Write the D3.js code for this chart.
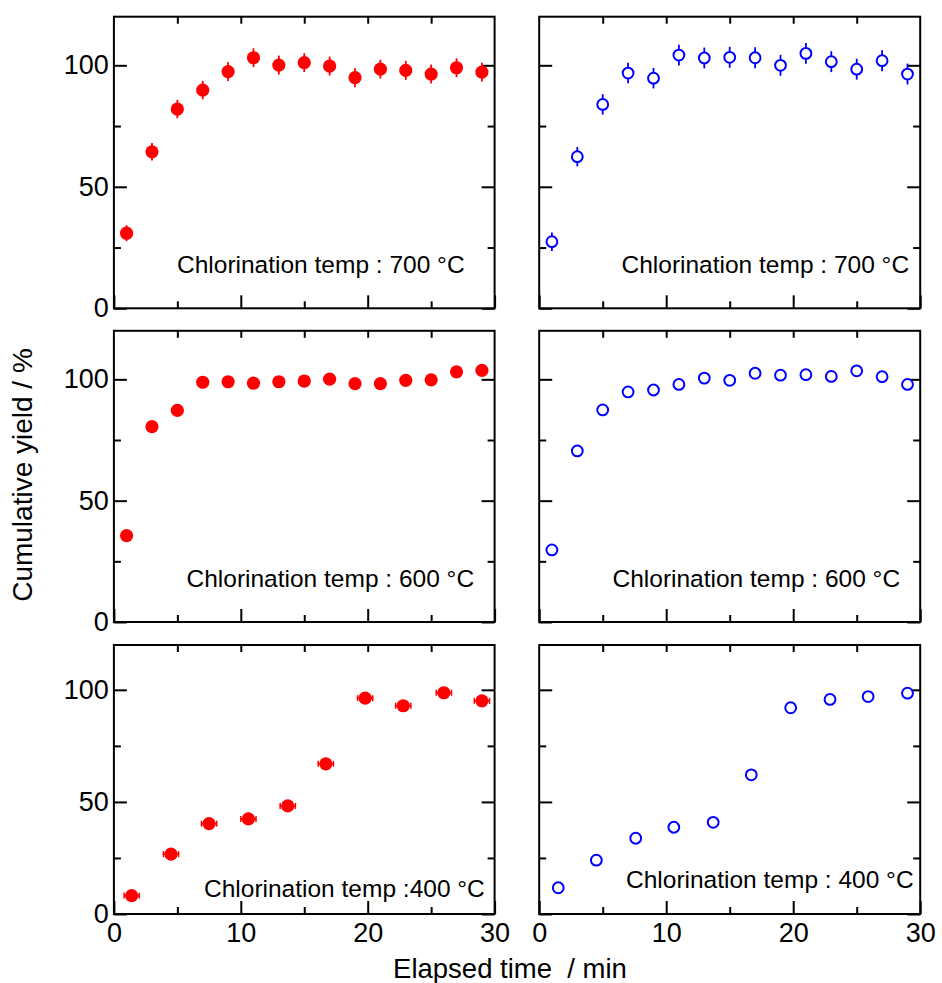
<!DOCTYPE html>
<html>
<head>
<meta charset="utf-8">
<script src="https://cdn.jsdelivr.net/npm/d3@7"></script>
<style>
  html, body { margin: 0; padding: 0; background: #fff; }
  svg { display: block; }
  text { font-family: Arial, "Liberation Sans", sans-serif; fill: #000; }
</style>
</head>
<body>
<svg id="chart" width="942" height="983"></svg>
<script>
// ---------- data ----------
const timeOdd = [1, 3, 5, 7, 9, 11, 13, 15, 17, 19, 21, 23, 25, 27, 29];

const yield700L = [30.9, 64.4, 82.0, 89.8, 97.4, 103.1, 100.1, 101.1, 99.7, 94.9, 98.4, 97.9, 96.4, 99.0, 97.2];
const err700L   = [3.3, 3.6, 3.8, 3.8, 3.9, 3.9, 3.9, 3.9, 3.9, 3.9, 3.9, 3.9, 3.9, 3.9, 3.9];

const yield700R = [27.4, 62.4, 83.9, 96.8, 94.7, 104.2, 103.0, 103.3, 103.1, 100.0, 104.9, 101.5, 98.4, 101.9, 96.4];
const err700R   = [3.8, 4.0, 4.2, 4.2, 4.2, 4.3, 4.3, 4.3, 4.3, 4.3, 4.3, 4.3, 4.3, 4.3, 4.3];

const yield600L = [35.6, 80.5, 87.2, 98.8, 99.0, 98.4, 99.0, 99.3, 100.1, 98.2, 98.2, 99.6, 99.8, 103.1, 103.7];
const yield600R = [29.7, 70.5, 87.4, 94.8, 95.6, 97.9, 100.5, 99.6, 102.5, 101.7, 101.9, 101.2, 103.5, 101.1, 97.9];

const time400L  = [1.4, 4.5, 7.5, 10.6, 13.7, 16.7, 19.8, 22.8, 26.0, 29.0];
const yield400L = [8.2, 26.7, 40.3, 42.4, 48.2, 67.0, 96.3, 92.9, 98.7, 95.1];
const xerr400L  = [0.6, 0.6, 0.6, 0.6, 0.6, 0.6, 0.6, 0.6, 0.6, 0.6];

const time400R  = [1.5, 4.5, 7.6, 10.6, 13.7, 16.7, 19.8, 22.9, 25.9, 29.0];
const yield400R = [11.7, 24.0, 33.8, 38.7, 40.9, 62.1, 92.0, 95.7, 97.0, 98.5];

const xMajorTicks = [0, 10, 20, 30];
const xMinorTicks = [5, 15, 25];
const yMajorTicks = [0, 50, 100];
const yMinorTicks = [25, 75];

const labels = ["Chlorination temp : 700 °C", "Chlorination temp : 700 °C",
                "Chlorination temp : 600 °C", "Chlorination temp : 600 °C",
                "Chlorination temp :400 °C", "Chlorination temp : 400 °C"];

// ---------- layout ----------
const svg = d3.select("#chart");
const cols = [[113.9, 494.6], [539.2, 920.2]];
const rows = [[16.7, 308.3], [330.8, 622.0], [645.0, 914.0]];
const RED = "#ff0000", BLUE = "#0000ff";

const panels = [
  { r: 0, c: 0, x: timeOdd, y: yield700L, yerr: err700L, filled: true, lab: labels[0], lx: 177, ly: 273 },
  { r: 0, c: 1, x: timeOdd, y: yield700R, yerr: err700R, filled: false, lab: labels[1], lx: 621.5, ly: 273 },
  { r: 1, c: 0, x: timeOdd, y: yield600L, filled: true, lab: labels[2], lx: 186.5, ly: 586.5 },
  { r: 1, c: 1, x: timeOdd, y: yield600R, filled: false, lab: labels[3], lx: 612.5, ly: 586.5 },
  { r: 2, c: 0, x: time400L, y: yield400L, xerr: xerr400L, filled: true, lab: labels[4], lx: 204, ly: 896.5 },
  { r: 2, c: 1, x: time400R, y: yield400R, filled: false, lab: labels[5], lx: 626, ly: 887.5 }
];

function styleAxis(g) {
  g.select(".domain").remove();
  g.selectAll(".tick line").attr("stroke", "#000").attr("stroke-width", 2);
  g.selectAll(".tick text").attr("font-size", 27).attr("font-family", "Arial, 'Liberation Sans', sans-serif").attr("fill", "#000");
}

panels.forEach(p => {
  const [x0, x1] = cols[p.c];
  const [yt, yb] = rows[p.r];
  const xs = d3.scaleLinear().domain([0, 30]).range([x0, x1]);
  const ys = d3.scaleLinear().domain([0, 120]).range([yb, yt]);
  const g = svg.append("g");

  // left axis
  g.append("g").attr("transform", `translate(${x0},0)`)
    .call(d3.axisLeft(ys).tickValues(yMajorTicks).tickSize(-13).tickPadding(5)
      .tickFormat(p.c === 0 ? d3.format("d") : () => ""))
    .call(styleAxis);
  g.append("g").attr("transform", `translate(${x0},0)`)
    .call(d3.axisLeft(ys).tickValues(yMinorTicks).tickSize(-7).tickFormat(() => ""))
    .call(styleAxis);
  // right axis
  g.append("g").attr("transform", `translate(${x1},0)`)
    .call(d3.axisRight(ys).tickValues(yMajorTicks).tickSize(-13).tickFormat(() => ""))
    .call(styleAxis);
  g.append("g").attr("transform", `translate(${x1},0)`)
    .call(d3.axisRight(ys).tickValues(yMinorTicks).tickSize(-7).tickFormat(() => ""))
    .call(styleAxis);
  // bottom axis
  g.append("g").attr("transform", `translate(0,${yb})`)
    .call(d3.axisBottom(xs).tickValues(xMajorTicks).tickSize(-13).tickPadding(9)
      .tickFormat(p.r === 2 ? d3.format("d") : () => ""))
    .call(styleAxis);
  g.append("g").attr("transform", `translate(0,${yb})`)
    .call(d3.axisBottom(xs).tickValues(xMinorTicks).tickSize(-7).tickFormat(() => ""))
    .call(styleAxis);
  // top axis
  g.append("g").attr("transform", `translate(0,${yt})`)
    .call(d3.axisTop(xs).tickValues(xMinorTicks.concat([10, 20])).tickSize(-7).tickFormat(() => ""))
    .call(styleAxis);

  // frame
  g.append("rect").attr("x", x0).attr("y", yt).attr("width", x1 - x0).attr("height", yb - yt)
    .attr("fill", "none").attr("stroke", "#000").attr("stroke-width", 2);

  const color = p.filled ? RED : BLUE;
  const data = p.x.map((t, i) => ({ t, v: p.y[i], ye: p.yerr ? p.yerr[i] : 0, xe: p.xerr ? p.xerr[i] : 0 }));

  // vertical error bars
  if (p.yerr) {
    g.selectAll(null).data(data).enter().append("line")
      .attr("x1", d => xs(d.t)).attr("x2", d => xs(d.t))
      .attr("y1", d => ys(d.v - d.ye)).attr("y2", d => ys(d.v + d.ye))
      .attr("stroke", color).attr("stroke-width", 1.8);
  }
  // horizontal error bars with caps
  if (p.xerr) {
    g.selectAll(null).data(data).enter().append("line")
      .attr("x1", d => xs(d.t - d.xe)).attr("x2", d => xs(d.t + d.xe))
      .attr("y1", d => ys(d.v)).attr("y2", d => ys(d.v))
      .attr("stroke", color).attr("stroke-width", 1.8);
    [-1, 1].forEach(side => {
      g.selectAll(null).data(data).enter().append("line")
        .attr("x1", d => xs(d.t + side * d.xe))
        .attr("x2", d => xs(d.t + side * d.xe))
        .attr("y1", d => ys(d.v) - 3).attr("y2", d => ys(d.v) + 3)
        .attr("stroke", color).attr("stroke-width", 1.5);
    });
  }

  // markers
  g.selectAll(null).data(data).enter().append("circle")
    .attr("cx", d => xs(d.t)).attr("cy", d => ys(d.v))
    .attr("r", p.filled ? 6.6 : 5.4)
    .attr("fill", p.filled ? RED : "#fff")
    .attr("stroke", p.filled ? "none" : BLUE)
    .attr("stroke-width", 2);

  // annotation
  g.append("text").attr("x", p.lx).attr("y", p.ly)
    .attr("font-size", 24.5).text(p.lab);
});

// axis titles
svg.append("text").attr("x", 510).attr("y", 978).attr("text-anchor", "middle")
  .attr("font-size", 27.5).style("white-space", "pre").text("Elapsed time  / min");
svg.append("text").attr("transform", "translate(32,475) rotate(-90)").attr("text-anchor", "middle")
  .attr("font-size", 28).text("Cumulative yield / %");
</script>
</body>
</html>
